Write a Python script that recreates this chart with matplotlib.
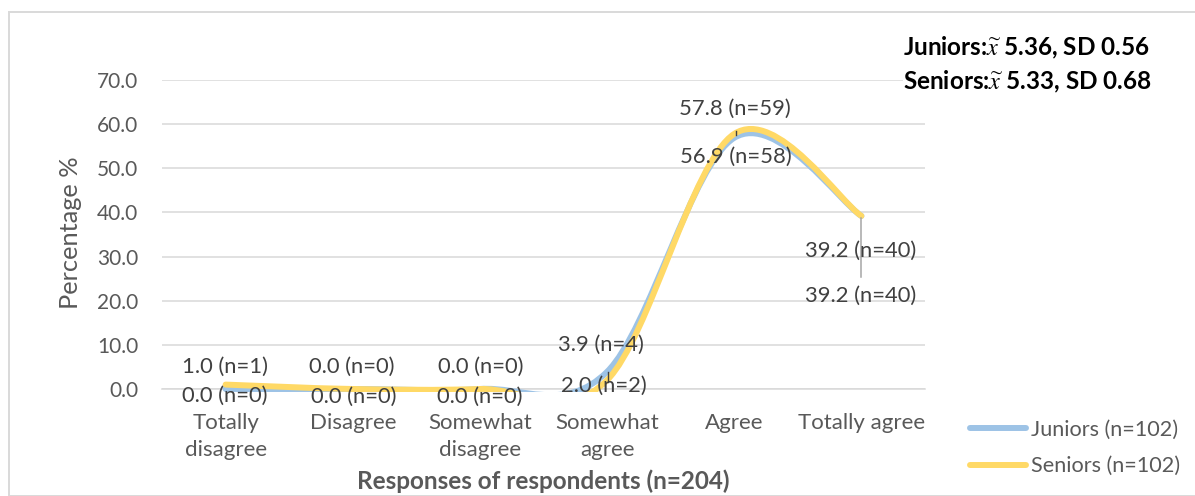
import matplotlib
matplotlib.use("Agg")
import matplotlib.pyplot as plt
import numpy as np
from matplotlib.path import Path
from matplotlib.patches import PathPatch, Rectangle
from matplotlib.lines import Line2D

# ---- data -------------------------------------------------------------
categories = ["Totally\ndisagree", "Disagree", "Somewhat\ndisagree",
              "Somewhat\nagree", "Agree", "Totally agree"]
juniors_pct = [0.0, 0.0, 0.0, 3.9, 56.9, 39.2]
juniors_n = [0, 0, 0, 4, 58, 40]
seniors_pct = [1.0, 0.0, 0.0, 2.0, 57.8, 39.2]
seniors_n = [1, 0, 0, 2, 59, 40]
series_names = ["Juniors (n=102)", "Seniors (n=102)"]
y_ticks = [0, 10, 20, 30, 40, 50, 60, 70]
stats_lines = [r"Juniors:$\widetilde{x}$ 5.36, SD 0.56",
               r"Seniors:$\widetilde{x}$ 5.33, SD 0.68"]
x_title = "Responses of respondents (n=204)"
y_title = "Percentage %"

# ---- style ------------------------------------------------------------
plt.rcParams["font.family"] = ["Lato", "DejaVu Sans"]
plt.rcParams["mathtext.fontset"] = "stix"
BLUE = "#9DC3E6"
YELLOW = "#FFD966"
GRID = "#D9D9D9"
TICK_C = "#595959"
LABEL_C = "#404040"
FS_YTICK = 15
FS_XTICK = 16
FS_DATA = 15.8
FS_TITLE = 17.5
FS_YLABEL = 18.3
FS_LEGEND = 15.6
FS_STATS = 17.5

W, H = 1195, 496
fig = plt.figure(figsize=(W / 100, H / 100), dpi=100)
ax = fig.add_axes([162 / W, 107 / H, 763 / W, 309 / H])

x = np.arange(len(categories))
ax.set_xlim(-0.5, len(categories) - 0.5)
ax.set_ylim(0, 70)


def smooth_path(xs, ys, k=1 / 6):
    """Cubic Bezier spline through the points (Catmull-Rom style tangents)."""
    pts = np.column_stack([xs, ys]).astype(float)
    n = len(pts)
    verts = [pts[0]]
    codes = [Path.MOVETO]
    for i in range(n - 1):
        p0 = pts[max(i - 1, 0)]
        p1 = pts[i]
        p2 = pts[i + 1]
        p3 = pts[min(i + 2, n - 1)]
        verts += [p1 + (p2 - p0) * k, p2 - (p3 - p1) * k, p2]
        codes += [Path.CURVE4] * 3
    return Path(verts, codes)


# plot-area clip (lines may spill a little below the baseline)
clip = Rectangle((-0.5, -0.7), len(categories), 80, transform=ax.transData,
                 visible=False)
ax.add_patch(clip)

for vals, col, z in [(juniors_pct, BLUE, 3), (seniors_pct, YELLOW, 4)]:
    patch = PathPatch(smooth_path(x, vals), fill=False, edgecolor=col,
                      lw=4.3, capstyle="round", joinstyle="round", zorder=z)
    ax.add_patch(patch)
    patch.set_clip_path(clip)

# grid & axes
ax.set_yticks(y_ticks)
ax.set_yticklabels([f"{v:.1f}" for v in y_ticks])
ax.yaxis.grid(True, color=GRID, lw=1.1)
ax.set_axisbelow(True)
for s in ["top", "right", "left"]:
    ax.spines[s].set_visible(False)
ax.spines["bottom"].set_color(GRID)
ax.spines["bottom"].set_linewidth(1.1)
ax.tick_params(axis="both", length=0, colors=TICK_C)
ax.tick_params(axis="y", pad=17, labelsize=FS_YTICK)
ax.tick_params(axis="x", pad=17, labelsize=FS_XTICK)
ax.set_xticks(x)
ax.set_xticklabels(categories, linespacing=1.45)

ax.set_ylabel(y_title, fontsize=FS_YLABEL, color=TICK_C)
ax.yaxis.set_label_coords(-0.105, 0.505)
fig.text(543 / W, 1 - 481 / H, x_title, fontsize=FS_TITLE, fontweight="bold",
         color=TICK_C, ha="center", va="center")

# data labels (pixel offsets from each point)
junior_offsets = [(-1, -7), (1, -8), (0, -8), (-6, 27), (2, -19), (-1, -35)]
senior_offsets = [(-1, 18), (-1, 22), (1, 22), (-3, -6), (1, 25), (-1, -80)]
for vals, ns, offs in [(juniors_pct, juniors_n, junior_offsets),
                       (seniors_pct, seniors_n, senior_offsets)]:
    for xi, v, n, (dx, dy) in zip(x, vals, ns, offs):
        ax.annotate(f"{v:.1f} (n={n})", (xi, v), xytext=(dx, dy),
                    textcoords="offset pixels", ha="center", va="center",
                    fontsize=FS_DATA, color=LABEL_C, zorder=6)

# leader lines
ax.plot([5, 5], [38.7, 25.4], color="#A6A6A6", lw=1.1, zorder=5)
ax.plot([4.01, 4.01], [58.4, 57.6], color="#404040", lw=1.0, zorder=6)
ax.plot([3.01, 3.01], [3.8, 1.6], color="#404040", lw=1.0, zorder=6)

# summary statistics
for i, s in enumerate(stats_lines):
    fig.text(903 / W, 1 - (48 + 34 * i) / H, s, fontsize=FS_STATS,
             fontweight="bold", color="black", ha="left", va="center",
             bbox=dict(facecolor="white", edgecolor="none", pad=0), zorder=10)

# legend
handles = [Line2D([], [], color=BLUE, lw=4.3, solid_capstyle="round"),
           Line2D([], [], color=YELLOW, lw=4.3, solid_capstyle="round")]
fig.legend(handles, series_names, loc="upper left",
           bbox_to_anchor=(970 / W, 1 - 420 / H), frameon=False,
           fontsize=FS_LEGEND, labelcolor=TICK_C, handlelength=2.6,
           handletextpad=0.2, labelspacing=0.75, borderpad=0,
           borderaxespad=0)

# chart border
fig.add_artist(Rectangle((8.5 / W, 0), 1.2, 1 - 11.5 / H,
                         transform=fig.transFigure, fill=False,
                         edgecolor=GRID, lw=1.4))

fig.savefig("out.png", dpi=100, facecolor="white")
